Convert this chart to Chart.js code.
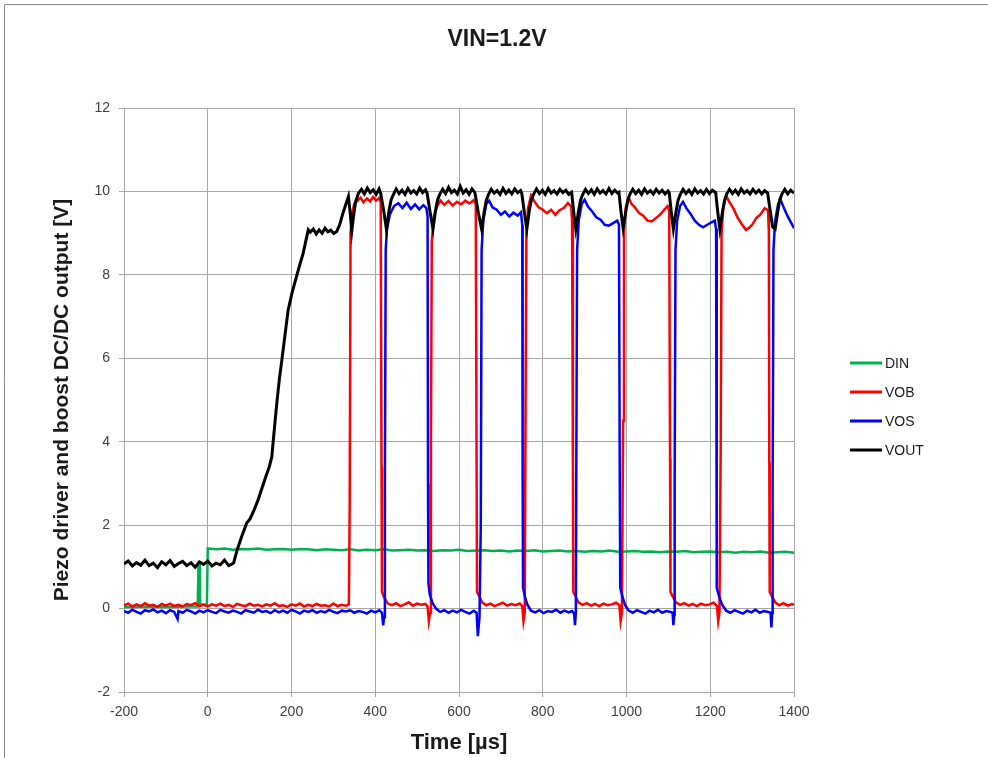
<!DOCTYPE html>
<html>
<head>
<meta charset="utf-8">
<script src="https://cdn.jsdelivr.net/npm/chart.js@4.4.1/dist/chart.umd.min.js"></script>
<style>
  html, body { margin: 0; padding: 0; background: #fff; }
</style>
</head>
<body>
<canvas id="myChart" width="988" height="758"></canvas>
<script>
// time axis in microseconds, values in volts
const chartTitle = "VIN=1.2V";
const seriesNames = ["DIN", "VOB", "VOS", "VOUT"];
const seriesColors = ["#00B050", "#FF0000", "#0000FF", "#000000"];
const xTicks = [-200, 0, 200, 400, 600, 800, 1000, 1200, 1400];
const yTicks = [-2, 0, 2, 4, 6, 8, 10, 12];

const dinT = [-200, -150, -100, -50, -24, -22, -19, -18, -2, 0,
  20, 40, 60, 80, 100, 120, 140, 160, 180, 200,
  220, 240, 260, 280, 300, 320, 340, 360, 380, 400,
  420, 440, 460, 480, 500, 520, 540, 560, 580, 600,
  620, 640, 660, 680, 700, 720, 740, 760, 780, 800,
  820, 840, 860, 880, 900, 920, 940, 960, 980, 1000,
  1020, 1040, 1060, 1080, 1100, 1120, 1140, 1160, 1180, 1200,
  1220, 1240, 1260, 1280, 1300, 1320, 1340, 1360, 1380, 1400];
const dinV = [0.04, 0.05, 0.04, 0.05, 0.05, 1.1, 1.1, 0.1, 0.1, 1.44,
  1.42, 1.44, 1.41, 1.43, 1.42, 1.44, 1.41, 1.42, 1.43, 1.41,
  1.43, 1.42, 1.40, 1.42, 1.41, 1.40, 1.42, 1.39, 1.41, 1.40,
  1.42, 1.39, 1.40, 1.41, 1.39, 1.40, 1.38, 1.40, 1.39, 1.41,
  1.38, 1.39, 1.40, 1.38, 1.39, 1.37, 1.39, 1.38, 1.40, 1.37,
  1.38, 1.39, 1.37, 1.38, 1.36, 1.38, 1.37, 1.39, 1.36, 1.37,
  1.38, 1.36, 1.37, 1.35, 1.37, 1.36, 1.38, 1.35, 1.36, 1.37,
  1.35, 1.36, 1.34, 1.36, 1.35, 1.37, 1.34, 1.35, 1.36, 1.34];

const vobT = [-200, -190, -180, -170, -160, -150, -140, -130, -120, -110,
  -100, -90, -80, -70, -60, -50, -40, -30, -20, -10,
  0, 10, 20, 30, 40, 50, 60, 70, 80, 90,
  100, 110, 120, 130, 140, 150, 160, 170, 180, 190,
  200, 210, 220, 230, 240, 250, 260, 270, 280, 290,
  300, 310, 320, 330, 337, 339, 341, 345, 350, 358,
  365, 372, 380, 388, 395, 402, 409, 413, 415, 416,
  420, 425, 430, 440, 450, 460, 470, 480, 490, 500,
  510, 520, 525, 528, 531, 533, 535, 540, 548, 556,
  565, 575, 585, 595, 605, 615, 625, 635, 640, 642,
  643, 648, 655, 665, 675, 685, 695, 705, 715, 725,
  735, 745, 751, 754, 757, 759, 761, 765, 772, 780,
  790, 800, 810, 820, 830, 840, 850, 860, 868, 870,
  872, 873, 878, 885, 895, 905, 915, 925, 935, 945,
  955, 965, 975, 983, 986, 989, 992, 994, 998, 1005,
  1012, 1020, 1030, 1040, 1050, 1060, 1070, 1080, 1090, 1098,
  1102, 1104, 1105, 1110, 1118, 1128, 1138, 1148, 1158, 1168,
  1178, 1188, 1198, 1208, 1216, 1219, 1222, 1225, 1227, 1231,
  1238, 1246, 1255, 1265, 1275, 1285, 1292, 1300, 1310, 1320,
  1330, 1338, 1340, 1341, 1342, 1347, 1355, 1365, 1375, 1385,
  1395, 1400];
const vobV = [0.08, 0.12, 0.05, 0.10, 0.06, 0.13, 0.07, 0.09, 0.04, 0.11,
  0.07, 0.12, 0.06, 0.09, 0.05, 0.11, 0.08, 0.13, 0.06, 0.09,
  0.05, 0.10, 0.07, 0.12, 0.06, 0.09, 0.04, 0.11, 0.08, 0.06,
  0.12, 0.07, 0.09, 0.05, 0.10, 0.07, 0.13, 0.06, 0.08, 0.04,
  0.10, 0.07, 0.12, 0.05, 0.09, 0.06, 0.11, 0.07, 0.08, 0.05,
  0.12, 0.06, 0.09, 0.07, 0.10, 2.5, 9.0, 9.5, 9.7, 9.78,
  9.85, 9.74, 9.83, 9.76, 9.87, 9.78, 9.84, 9.75, 3.4, 0.4,
  0.3, 0.2, 0.12, 0.08, 0.13, 0.06, 0.10, 0.15, 0.07, 0.12,
  0.09, 0.11, 0.05, -0.3, -0.1, 4.0, 8.8, 9.4, 9.65, 9.78,
  9.68, 9.77, 9.66, 9.75, 9.69, 9.78, 9.71, 9.79, 9.7, 3.5,
  0.4, 0.3, 0.15, 0.08, 0.12, 0.06, 0.10, 0.14, 0.07, 0.11,
  0.08, 0.12, 0.06, -0.3, -0.1, 5.0, 9.0, 9.6, 9.9, 9.76,
  9.62, 9.56, 9.48, 9.56, 9.44, 9.55, 9.6, 9.72, 9.64, 9.3,
  3.4, 0.4, 0.3, 0.15, 0.09, 0.13, 0.07, 0.11, 0.06, 0.12,
  0.08, 0.10, 0.14, 0.08, -0.3, -0.1, 4.5, 9.0, 9.6, 9.85,
  9.7, 9.62, 9.48, 9.42, 9.3, 9.28, 9.36, 9.44, 9.56, 9.65,
  9.55, 3.6, 0.4, 0.3, 0.15, 0.09, 0.13, 0.07, 0.11, 0.06,
  0.12, 0.08, 0.10, 0.14, 0.06, -0.3, -0.1, 4.0, 9.0, 9.6,
  9.9, 9.74, 9.6, 9.38, 9.22, 9.08, 9.12, 9.2, 9.36, 9.45,
  9.6, 9.55, 9.0, 3.5, 0.4, 0.3, 0.15, 0.08, 0.13, 0.07,
  0.11, 0.09];

const vosT = [-200, -190, -180, -170, -160, -150, -140, -130, -120, -110,
  -100, -90, -80, -72, -70, -60, -50, -40, -30, -20,
  -10, 0, 10, 20, 30, 40, 50, 60, 70, 80,
  90, 100, 110, 120, 130, 140, 150, 160, 170, 180,
  190, 200, 210, 220, 230, 240, 250, 260, 270, 280,
  290, 300, 310, 320, 330, 340, 350, 360, 370, 380,
  390, 400, 410, 416, 419, 421, 423, 425, 428, 435,
  445, 455, 465, 475, 485, 495, 505, 515, 522, 525,
  526, 527, 530, 536, 545, 555, 565, 575, 585, 595,
  605, 615, 625, 635, 642, 645, 649, 652, 654, 658,
  665, 672, 680, 690, 700, 710, 720, 730, 740, 748,
  751, 752, 753, 757, 763, 772, 782, 792, 802, 812,
  822, 832, 842, 852, 862, 870, 875, 877, 879, 880,
  882, 886, 893, 900, 908, 918, 928, 938, 948, 958,
  968, 978, 982, 984, 985, 990, 996, 1005, 1015, 1025,
  1035, 1045, 1055, 1065, 1075, 1085, 1095, 1105, 1110, 1112,
  1114, 1115, 1117, 1121, 1128, 1135, 1143, 1153, 1163, 1173,
  1183, 1193, 1203, 1211, 1214, 1215, 1216, 1221, 1228, 1238,
  1248, 1258, 1268, 1278, 1288, 1298, 1308, 1318, 1328, 1338,
  1344, 1346, 1348, 1349, 1351, 1355, 1362, 1368, 1376, 1385,
  1393, 1400];
const vosV = [-0.06, -0.10, -0.03, -0.08, -0.12, -0.04, -0.07, -0.02, -0.09, -0.05,
  -0.11, -0.04, -0.08, -0.25, -0.06, -0.10, -0.03, -0.07, -0.12, -0.05,
  -0.09, -0.04, -0.08, -0.11, -0.03, -0.07, -0.10, -0.05, -0.08, -0.12,
  -0.04, -0.07, -0.10, -0.03, -0.08, -0.06, -0.11, -0.04, -0.09, -0.05,
  -0.10, -0.03, -0.07, -0.12, -0.05, -0.08, -0.04, -0.10, -0.06, -0.09,
  -0.03, -0.08, -0.11, -0.05, -0.07, -0.04, -0.10, -0.06, -0.08, -0.12,
  -0.05, -0.09, -0.04, -0.1, -0.4, -0.2, 3.0, 8.6, 9.1, 9.45,
  9.65, 9.72, 9.6, 9.73, 9.58, 9.69, 9.57, 9.67, 9.6, 9.4,
  3.0, 0.6, 0.35, 0.15, 0.0, -0.08, -0.04, -0.1, -0.05, -0.09,
  -0.03, -0.08, -0.12, -0.05, -0.1, -0.66, -0.2, 2.0, 8.6, 9.3,
  9.7, 9.78, 9.62, 9.56, 9.44, 9.52, 9.4, 9.49, 9.42, 9.5,
  9.2, 3.0, 0.5, 0.3, 0.1, -0.05, -0.09, -0.04, -0.11, -0.06,
  -0.08, -0.03, -0.1, -0.05, -0.09, -0.06, -0.12, -0.4, -0.1, 3.0,
  8.6, 9.3, 9.7, 9.8, 9.64, 9.52, 9.38, 9.32, 9.2, 9.18,
  9.24, 9.3, 9.2, 3.0, 0.5, 0.3, 0.1, -0.05, -0.1, -0.04,
  -0.08, -0.12, -0.05, -0.09, -0.03, -0.1, -0.06, -0.08, -0.1, -0.4,
  -0.15, 3.0, 8.6, 9.3, 9.65, 9.75, 9.6, 9.46, 9.3, 9.2,
  9.14, 9.2, 9.26, 9.3, 9.1, 3.0, 0.5, 0.3, 0.1, -0.05,
  -0.1, -0.04, -0.08, -0.12, -0.05, -0.09, -0.03, -0.1, -0.06, -0.08,
  -0.1, -0.45, -0.1, 3.0, 8.6, 9.3, 9.7, 9.8, 9.6, 9.4,
  9.25, 9.12];

const voutT = [-200, -190, -180, -170, -160, -150, -140, -130, -120, -110,
  -100, -90, -80, -70, -60, -50, -40, -30, -20, -10,
  0, 10, 20, 30, 40, 50, 60, 62, 70, 80,
  93, 101, 110, 120, 130, 140, 147, 153, 159, 165,
  171, 177, 185, 192, 202, 212, 220, 228, 235, 240,
  245, 252, 259, 266, 273, 280, 287, 294, 301, 308,
  315, 322, 330, 336, 340, 344, 348, 353, 360, 367,
  374, 381, 388, 395, 402, 409, 413, 420, 427, 433,
  438, 443, 450, 457, 464, 471, 478, 485, 492, 499,
  506, 513, 520, 524, 531, 538, 544, 549, 554, 561,
  568, 575, 582, 589, 596, 603, 610, 617, 624, 631,
  638, 646, 654, 660, 665, 670, 677, 684, 691, 698,
  705, 712, 719, 726, 733, 740, 747, 750, 756, 762,
  768, 773, 778, 785, 792, 799, 806, 813, 820, 827,
  834, 841, 848, 855, 862, 869, 874, 879, 885, 890,
  895, 902, 909, 916, 923, 930, 937, 944, 951, 958,
  965, 972, 979, 982, 987, 992, 998, 1003, 1008, 1015,
  1022, 1029, 1036, 1043, 1050, 1057, 1064, 1071, 1078, 1085,
  1092, 1099, 1102, 1107, 1112, 1118, 1123, 1128, 1135, 1142,
  1149, 1156, 1163, 1170, 1177, 1184, 1191, 1198, 1205, 1213,
  1218, 1223, 1229, 1234, 1239, 1246, 1253, 1260, 1267, 1274,
  1281, 1288, 1295, 1302, 1309, 1316, 1323, 1330, 1337, 1343,
  1349, 1355, 1361, 1366, 1371, 1378, 1385, 1392, 1400];
const voutV = [1.07, 1.14, 1.02, 1.10, 1.04, 1.16, 1.03, 1.09, 0.98, 1.12,
  1.05, 1.15, 1.01, 1.08, 1.13, 1.03, 1.10, 0.99, 1.12, 1.06,
  1.14, 1.02, 1.09, 1.05, 1.16, 1.03, 1.08, 1.1, 1.4, 1.7,
  2.05, 2.15, 2.35, 2.6, 2.9, 3.2, 3.4, 3.64, 4.3, 4.93,
  5.5, 5.96, 6.6, 7.16, 7.6, 7.96, 8.25, 8.52, 8.85, 9.08,
  9.02, 9.1, 8.98, 9.08, 9.0, 9.12, 9.03, 9.07, 8.99, 9.04,
  9.2, 9.45, 9.7, 9.88, 9.5, 9.05, 9.4, 9.75, 9.96, 10.05,
  9.94, 10.08, 9.97, 10.04, 9.93, 10.06, 9.95, 9.55, 9.08, 9.55,
  9.8, 9.92, 10.06, 9.95, 10.03, 9.93, 10.07, 9.96, 10.02, 9.94,
  10.08, 9.97, 10.04, 9.95, 9.5, 9.1, 9.55, 9.8, 9.93, 10.05,
  9.95, 10.1, 9.97, 10.03, 9.94, 10.12, 9.96, 10.04, 9.93, 10.06,
  9.97, 9.5, 9.1, 9.5, 9.78, 9.92, 10.05, 9.96, 10.02, 9.93,
  10.07, 9.95, 10.03, 9.94, 10.06, 9.97, 10.02, 9.95, 9.5, 9.1,
  9.55, 9.8, 9.93, 10.06, 9.95, 10.03, 9.93, 10.07, 9.96, 10.02,
  9.94, 10.05, 9.97, 10.03, 9.93, 9.98, 9.5, 9.1, 9.5, 9.78,
  9.92, 10.05, 9.95, 10.04, 9.93, 10.06, 9.96, 10.02, 9.94, 10.07,
  9.95, 10.03, 9.96, 9.98, 9.5, 9.12, 9.5, 9.78, 9.93, 10.05,
  9.95, 10.03, 9.93, 10.06, 9.96, 10.02, 9.94, 10.05, 9.96, 10.03,
  9.94, 10.01, 9.97, 9.5, 9.1, 9.5, 9.78, 9.92, 10.05, 9.95,
  10.03, 9.93, 10.06, 9.96, 10.02, 9.94, 10.05, 9.95, 10.03, 9.97,
  9.5, 9.1, 9.5, 9.78, 9.93, 10.05, 9.95, 10.03, 9.93, 10.06,
  9.96, 10.02, 9.94, 10.05, 9.96, 10.03, 9.94, 10.02, 9.96, 9.55,
  9.15, 9.1, 9.5, 9.8, 9.93, 10.05, 9.94, 10.03, 9.96];

const allT = [dinT, vobT, vosT, voutT];
const allV = [dinV, vobV, vosV, voutV];

function pts(t, v) {
  return t.map(function (x, i) { return { x: x, y: v[i] }; });
}

const fontFam = "'Liberation Sans', Arial, sans-serif";
const gridCol = "#a6a6a6";

// white page, grey frame and the chart title
const frame = {
  id: "frame",
  beforeDraw: function (chart) {
    const c = chart.ctx;
    c.save();
    c.fillStyle = "#fff";
    c.fillRect(0, 0, chart.width, chart.height);
    c.strokeStyle = "#8c8c8c";
    c.lineWidth = 1;
    c.beginPath();
    c.moveTo(4.5, chart.height);
    c.lineTo(4.5, 4.5);
    c.lineTo(chart.width, 4.5);
    c.stroke();
    c.fillStyle = "#1a1a1a";
    c.font = "bold 23px " + fontFam;
    c.textAlign = "center";
    c.textBaseline = "middle";
    c.fillText(chartTitle, 497, 40);
    c.restore();
  },
};

// legend on the right, line sample + name
const sideLegend = {
  id: "sideLegend",
  afterDraw: function (chart) {
    const c = chart.ctx;
    c.save();
    c.font = "14px " + fontFam;
    c.textBaseline = "middle";
    c.textAlign = "left";
    chart.data.datasets.forEach(function (ds, i) {
      const y = 363 + i * 29;
      c.strokeStyle = ds.borderColor;
      c.lineWidth = 3;
      c.beginPath();
      c.moveTo(850, y);
      c.lineTo(882, y);
      c.stroke();
      c.fillStyle = "#1a1a1a";
      c.fillText(ds.label, 885, y + 1);
    });
    c.restore();
  },
};

const ctx = document.getElementById("myChart");

new Chart(ctx, {
  type: "line",
  data: {
    datasets: seriesNames.map(function (name, i) {
      return {
        label: name,
        data: pts(allT[i], allV[i]),
        borderColor: seriesColors[i],
        backgroundColor: seriesColors[i],
        borderWidth: name === "VOUT" ? 3 : 2.5,
        pointRadius: 0,
        tension: 0,
        fill: false,
        order: 4 - i,
      };
    }),
  },
  options: {
    responsive: false,
    animation: false,
    layout: { padding: { left: 8, right: 194, top: 108, bottom: 0 } },
    scales: {
      x: {
        type: "linear",
        min: xTicks[0],
        max: xTicks[xTicks.length - 1],
        afterBuildTicks: function (s) { s.ticks = xTicks.map(function (v) { return { value: v }; }); },
        afterFit: function (s) { s.height = 66; },
        ticks: {
          color: "#404040",
          font: { size: 14, family: fontFam },
          padding: 7,
          maxRotation: 0,
          callback: function (v) { return String(v); },
        },
        grid: { color: gridCol, tickLength: 5 },
        border: { color: gridCol },
        title: {
          display: true,
          text: "Time [µs]",
          color: "#1a1a1a",
          font: { size: 22, weight: "bold", family: fontFam },
          padding: { top: 0, bottom: 2 },
        },
      },
      y: {
        min: yTicks[0],
        max: yTicks[yTicks.length - 1],
        afterBuildTicks: function (s) { s.ticks = yTicks.map(function (v) { return { value: v }; }); },
        afterFit: function (s) { s.width = 116; },
        ticks: {
          color: "#404040",
          font: { size: 14, family: fontFam },
          padding: 9,
          callback: function (v) { return String(v); },
        },
        grid: { color: gridCol, tickLength: 5 },
        border: { color: gridCol },
        title: {
          display: true,
          text: "Piezo driver and boost DC/DC output [V]",
          color: "#1a1a1a",
          font: { size: 21, weight: "bold", family: fontFam },
          padding: { top: 42, bottom: 0 },
        },
      },
    },
    plugins: {
      legend: { display: false },
      tooltip: { enabled: false },
      title: { display: false },
    },
  },
  plugins: [frame, sideLegend],
});
</script>
</body>
</html>
